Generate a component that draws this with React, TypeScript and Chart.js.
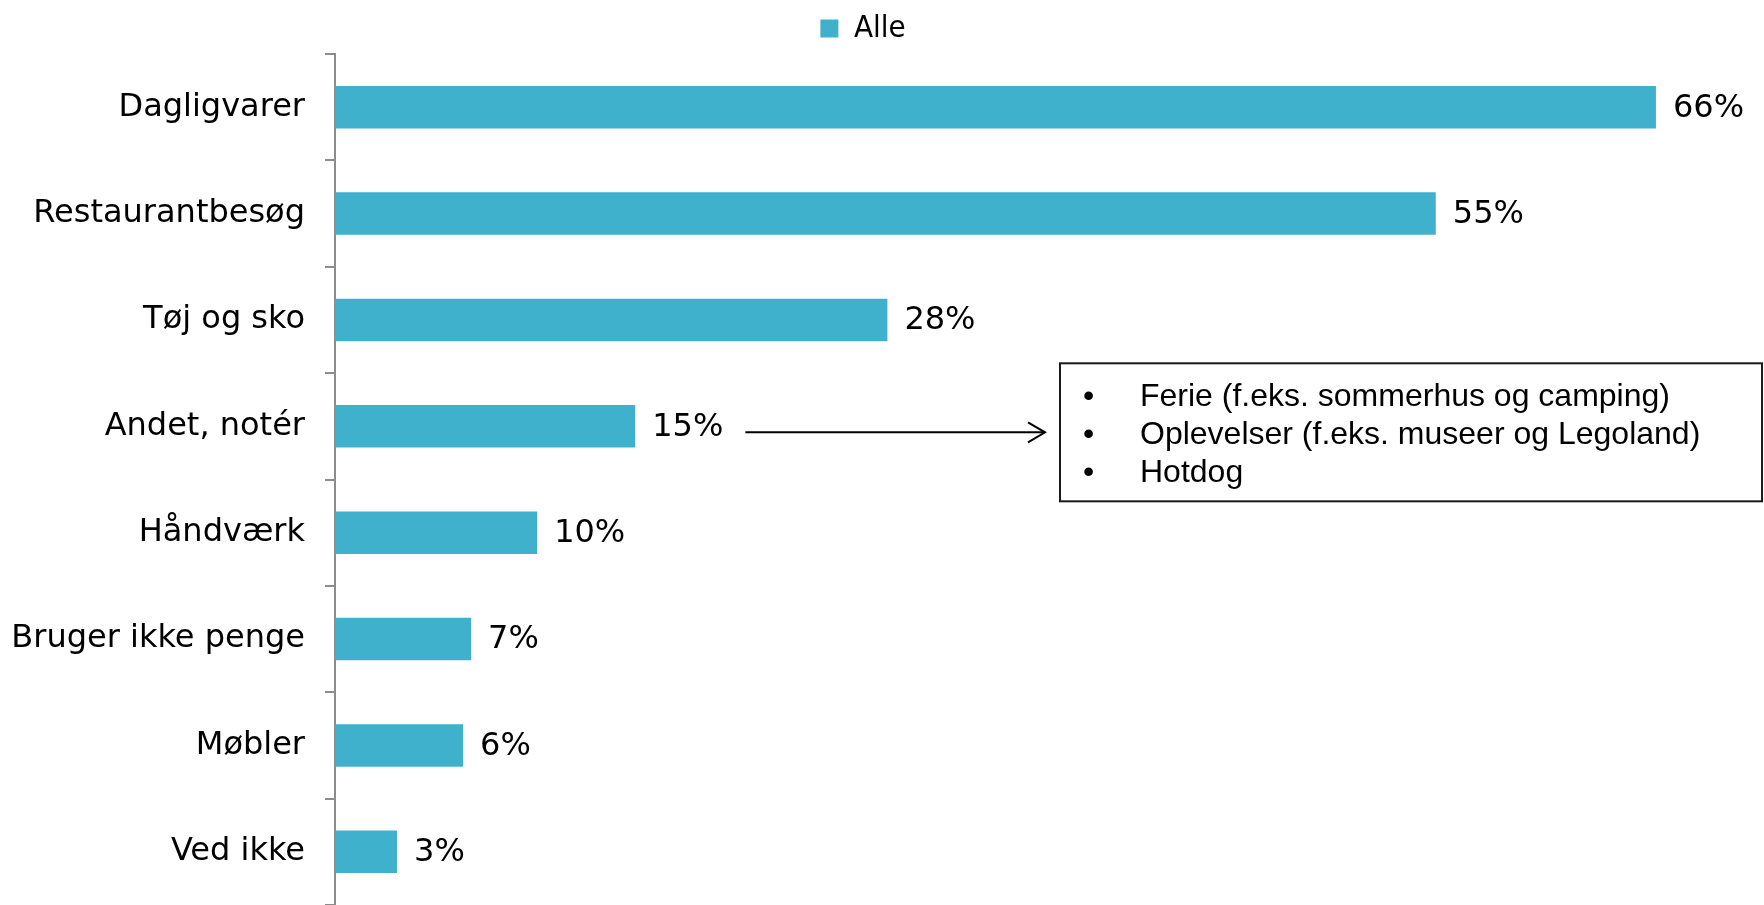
import React, { useEffect, useRef } from 'react';
import { Chart, registerables } from 'chart.js';

Chart.register(...registerables);

const categories = [
  'Dagligvarer',
  'Restaurantbesøg',
  'Tøj og sko',
  'Andet, notér',
  'Håndværk',
  'Bruger ikke penge',
  'Møbler',
  'Ved ikke',
];
const values = [66, 55, 27.6, 15, 10.1, 6.8, 6.4, 3.1];
const valueLabels = ['66%', '55%', '28%', '15%', '10%', '7%', '6%', '3%'];
const seriesName = 'Alle';
const noteCategory = 'Andet, notér';
const noteLines = [
  'Ferie (f.eks. sommerhus og camping)',
  'Oplevelser (f.eks. museer og Legoland)',
  'Hotdog',
];

const BAR_COLOR = '#40B1CD';
const AXIS_COLOR = '#8C8C8C';
const LABEL_FONT = '32px "DejaVu Sans", Verdana, sans-serif';
const NOTE_FONT = '32px "Liberation Sans", Arial, sans-serif';

const valueLabelPlugin = {
  id: 'valueLabels',
  afterDatasetsDraw(chart: any) {
    const ctx = chart.ctx;
    const meta = chart.getDatasetMeta(0);
    ctx.save();
    ctx.font = LABEL_FONT;
    ctx.fillStyle = '#000';
    ctx.textAlign = 'left';
    ctx.textBaseline = 'middle';
    meta.data.forEach((bar: any, i: number) => {
      ctx.fillText(valueLabels[i], bar.x + 17, bar.y + 1);
    });
    ctx.restore();
  },
};

const notePlugin = {
  id: 'noteBox',
  afterDraw(chart: any) {
    const ctx = chart.ctx;
    const meta = chart.getDatasetMeta(0);
    const idx = categories.indexOf(noteCategory);
    const bar = meta.data[idx];
    if (!bar) return;
    ctx.save();
    ctx.font = LABEL_FONT;
    const labelEnd = bar.x + 17 + ctx.measureText(valueLabels[idx]).width;
    const ay = bar.y + 6;
    const ax0 = labelEnd + 22;
    const boxLeft = 1060;
    const boxRight = chart.width - 2;
    const ax1 = boxLeft - 15;
    // arrow
    ctx.strokeStyle = '#000';
    ctx.lineWidth = 2;
    ctx.beginPath();
    ctx.moveTo(ax0, ay);
    ctx.lineTo(ax1, ay);
    ctx.stroke();
    ctx.beginPath();
    ctx.moveTo(ax1 - 17, ay - 10);
    ctx.lineTo(ax1, ay);
    ctx.lineTo(ax1 - 17, ay + 10);
    ctx.stroke();
    // box
    const boxTop = bar.y - 63;
    const boxH = 138;
    ctx.strokeStyle = '#1a1a1a';
    ctx.lineWidth = 2;
    ctx.strokeRect(boxLeft, boxTop, boxRight - boxLeft, boxH);
    // lines
    ctx.font = NOTE_FONT;
    ctx.fillStyle = '#000';
    ctx.textBaseline = 'middle';
    ctx.textAlign = 'left';
    noteLines.forEach((line, i) => {
      const y = boxTop + 34 + i * 37.7;
      ctx.fillText('•', boxLeft + 23, y);
      ctx.fillText(line, boxLeft + 80, y);
    });
    ctx.restore();
  },
};

export default function App() {
  const canvasRef = useRef<HTMLCanvasElement | null>(null);

  useEffect(() => {
    if (!canvasRef.current) return;
    const chart = new Chart(canvasRef.current, {
      type: 'bar',
      data: {
        labels: categories,
        datasets: [
          {
            label: seriesName,
            data: values,
            backgroundColor: BAR_COLOR,
            borderWidth: 0,
            barPercentage: 0.4,
            categoryPercentage: 1,
          },
        ],
      },
      options: {
        indexAxis: 'y',
        animation: false,
        responsive: true,
        maintainAspectRatio: false,
        layout: { padding: { left: 0, right: 38, top: 3, bottom: 0 } },
        plugins: {
          legend: {
            display: true,
            position: 'top',
            align: 'center',
            labels: {
              boxWidth: 18,
              boxHeight: 18,
              padding: 10,
              color: '#000',
              font: { family: '"DejaVu Sans Condensed", "DejaVu Sans", sans-serif', size: 31 },
            },
          },
          tooltip: { enabled: false },
        },
        scales: {
          x: {
            display: false,
            min: 0,
            max: 69.5,
          },
          y: {
            type: 'category',
            offset: true,
            afterFit: (scale: any) => {
              scale.width = 335;
              scale.paddingTop = 0;
              scale.paddingBottom = 0;
            },
            border: { display: true, color: AXIS_COLOR, width: 2 },
            grid: {
              display: true,
              offset: true,
              drawOnChartArea: false,
              drawTicks: true,
              tickLength: 10,
              color: AXIS_COLOR,
              lineWidth: 2,
            },
            ticks: {
              color: '#000',
              padding: 20,
              font: { family: '"DejaVu Sans", Verdana, sans-serif', size: 32 },
            },
          },
        },
      },
      plugins: [valueLabelPlugin, notePlugin],
    });
    return () => chart.destroy();
  }, []);

  return (
    <div style={{ position: 'absolute', left: 0, top: 0, width: 1764, height: 905, background: '#fff' }}>
      <canvas ref={canvasRef} />
    </div>
  );
}
